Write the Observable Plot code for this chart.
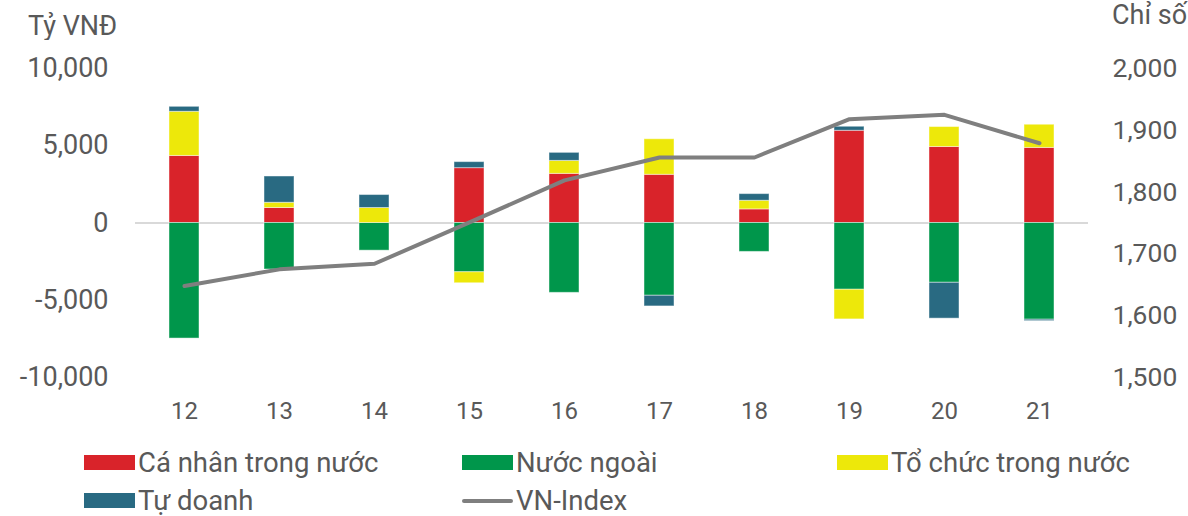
<!DOCTYPE html>
<html>
<head>
<meta charset="utf-8">
<script src="https://cdn.jsdelivr.net/npm/d3@7"></script>
<script src="https://cdn.jsdelivr.net/npm/@observablehq/plot@0.6"></script>
<style>
  body { margin: 0; background: #fff; font-family: Roboto, "Noto Sans", sans-serif; color: #595959; }
  #wrap { position: relative; width: 1188px; height: 516px; overflow: hidden; }
  .unit { position: absolute; font-size: 27px; line-height: 1; }
  #chart { position: absolute; left: 0; top: 40px; }
  .leg { position: absolute; display: flex; align-items: center; font-size: 27.5px; line-height: 1; white-space: nowrap; }
  .sw { width: 51px; height: 15px; margin-right: 3px; }
  .ln { width: 51px; height: 4px; border-radius: 2px; margin-right: 3px; background: #7f7f7f; }
</style>
</head>
<body>
<div id="wrap">
  <div class="unit" style="left:28px; top:13px;">Tỷ VNĐ</div>
  <div class="unit" style="left:1112px; top:2px;">Chỉ số</div>
  <div id="chart"></div>
  <div id="legend"></div>
</div>
<script>
const categories = ["12","13","14","15","16","17","18","19","20","21"];
const seriesNames = ["Cá nhân trong nước","Nước ngoài","Tổ chức trong nước","Tự doanh"];
const seriesColors = ["#d9232a","#00964b","#ede80a","#296a82"];
const caNhan    = [4340, 970, 0, 3550, 3180, 3120, 880, 5970, 4920, 4860];
const nuocNgoai = [-7480, -3010, -1790, -3190, -4520, -4710, -1870, -4320, -3870, -6260];
const toChuc    = [2860, 340, 970, -710, 840, 2300, 560, -1920, 1290, 1500];
const tuDoanh   = [320, 1700, 840, 390, 520, -690, 430, 260, -2320, -90];
const vnIndex   = [1648, 1675, 1684, 1751, 1819, 1856, 1856, 1918, 1925, 1879];
const lineName = "VN-Index";
const leftTicks = [-10000, -5000, 0, 5000, 10000];
const rightTicks = [1500, 1600, 1700, 1800, 1900, 2000];

// map right axis (index) onto left scale: 1500..2000 <-> -10000..10000
const toLeft = v => (v - 1750) * 40;
const fromLeft = v => v / 40 + 1750;
const fmt = v => Math.round(v).toLocaleString("en-US");

const seriesValues = [caNhan, nuocNgoai, toChuc, tuDoanh];
const rows = [];
seriesNames.forEach((s, si) => seriesValues[si].forEach((v, i) => rows.push({cat: categories[i], series: s, value: v})));
const lineRows = categories.map((c, i) => ({cat: c, idx: vnIndex[i]}));

const chart = Plot.plot({
  width: 1188,
  height: 395,
  marginLeft: 135,
  marginRight: 100,
  marginTop: 28,
  marginBottom: 58,
  style: {fontFamily: "Roboto, 'Noto Sans', sans-serif", color: "#595959", background: "#fff"},
  x: {domain: categories, paddingInner: 0.685, paddingOuter: 0.3425, label: null},
  y: {domain: [-10000, 10000], label: null},
  color: {domain: seriesNames, range: seriesColors},
  marks: [
    Plot.ruleY([0], {stroke: "#d9d9d9", strokeWidth: 2}),
    Plot.barY(rows, {x: "cat", y: "value", fill: "series", stroke: "#ffffff", strokeOpacity: 0.45, strokeWidth: 1}),
    Plot.line(lineRows, {x: "cat", y: d => toLeft(d.idx), stroke: "#7f7f7f", strokeWidth: 4, strokeLinecap: "round", strokeLinejoin: "round"}),
    Plot.axisY({ticks: leftTicks, tickFormat: fmt, tickSize: 0, tickPadding: 27, fontSize: 27, label: null}),
    Plot.axisY({anchor: "right", ticks: rightTicks.map(toLeft), tickFormat: v => fmt(fromLeft(v)), tickSize: 0, tickPadding: 24, fontSize: 26.5, label: null}),
    Plot.axisX({tickSize: 0, tickPadding: 24, fontSize: 24, label: null})
  ]
});
document.getElementById("chart").appendChild(chart);

// legend
const legend = document.getElementById("legend");
const items = [
  {name: seriesNames[0], color: seriesColors[0], left: 84, top: 449},
  {name: seriesNames[1], color: seriesColors[1], left: 462, top: 449},
  {name: seriesNames[2], color: seriesColors[2], left: 837, top: 449},
  {name: seriesNames[3], color: seriesColors[3], left: 84, top: 487},
  {name: lineName, color: null, left: 462, top: 487}
];
items.forEach(it => {
  const d = document.createElement("div");
  d.className = "leg";
  d.style.left = it.left + "px";
  d.style.top = it.top + "px";
  const s = document.createElement("div");
  if (it.color) { s.className = "sw"; s.style.background = it.color; } else { s.className = "ln"; }
  const t = document.createElement("span");
  t.textContent = it.name;
  d.appendChild(s); d.appendChild(t);
  legend.appendChild(d);
});
</script>
</body>
</html>
